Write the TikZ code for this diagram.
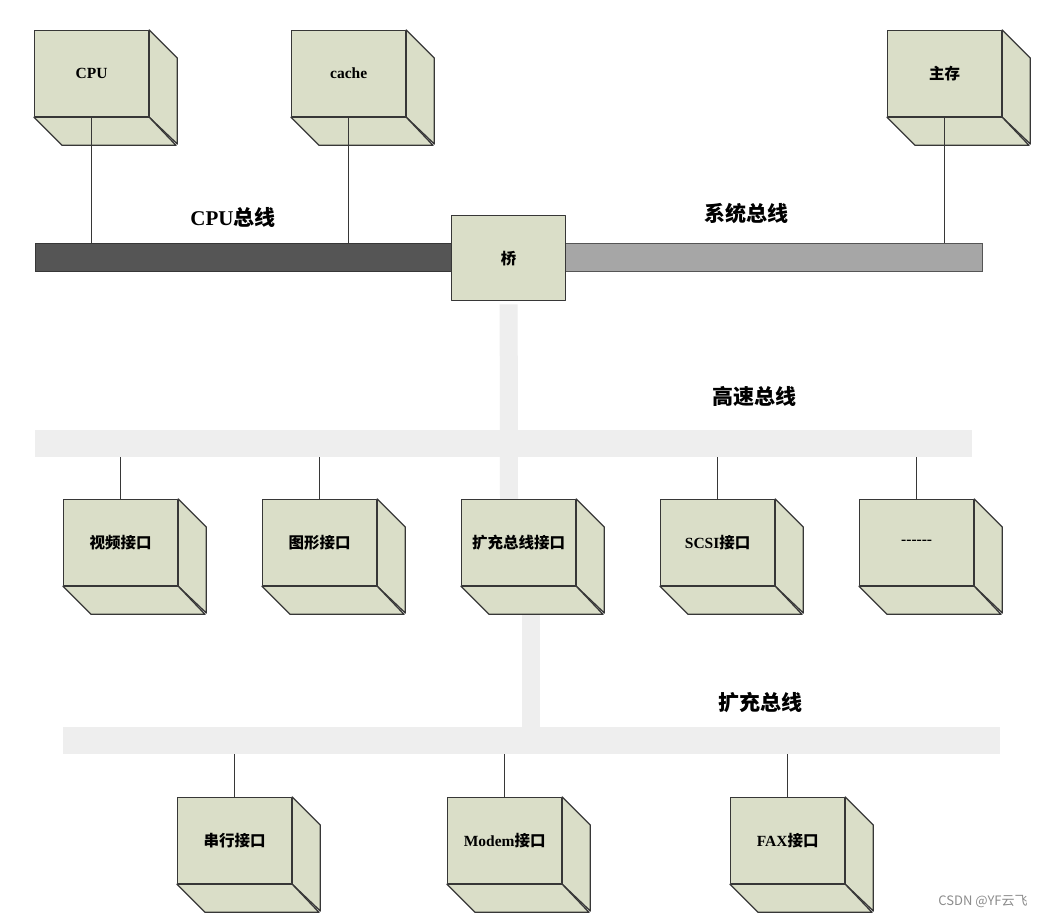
\documentclass[tikz,border=0pt]{standalone}
\usepackage{fontspec}
\setmainfont{Liberation Serif}
\newfontfamily\cjk{Noto Sans CJK SC}
\definecolor{boxfill}{RGB}{218,222,200}
\definecolor{edge}{RGB}{55,55,55}
\definecolor{darkbus}{RGB}{85,85,85}
\definecolor{greybus}{RGB}{166,166,166}
\definecolor{lightbar}{RGB}{238,238,238}
\definecolor{wm}{RGB}{140,140,140}
\tikzset{
  face/.style={draw=edge, fill=boxfill, line width=1.3pt, line join=round},
  front/.style={face, rectangle, minimum width=114pt, minimum height=86pt, inner sep=0pt, anchor=north west,
    font=\bfseries\fontsize{15.5}{15.5}\selectfont},
  link/.style={draw=edge, line width=1pt},
  bar/.style={rectangle, inner sep=0pt, anchor=north west, draw=none, fill=lightbar},
  vbar/.style={draw=lightbar, line width=18pt},
  buslabel/.style={font=\cjk\bfseries\fontsize{21}{21}\selectfont},
}
\newcommand\cubefaces[1]{%
  \filldraw[face] (#1.north east) -- ++(28,28) -- ++(0,86) -- (#1.south east) -- cycle;
  \filldraw[face] (#1.south west) -- ++(28,28) -- ++(114,0) -- (#1.south east) -- cycle;}
\begin{document}
\begin{tikzpicture}[x=1pt,y=-1pt]
\useasboundingbox[fill=white] (0,0) rectangle (1046,920);
% buses
\node[bar, minimum width=937pt, minimum height=27pt] (hsbus) at (35,430) {};
\node[bar, minimum width=937pt, minimum height=27pt] (xbus) at (63,727) {};
\node[rectangle, inner sep=0pt, anchor=north west, draw=edge, line width=1pt, fill=darkbus,
  minimum width=417pt, minimum height=28pt] (cpubus) at (35,243) {};
\node[rectangle, inner sep=0pt, anchor=north west, draw=darkbus, line width=1pt, fill=greybus,
  minimum width=417pt, minimum height=28pt] (sysbus) at (565,243) {};
% bridge
\node[face, rectangle, minimum width=114pt, minimum height=85pt, inner sep=0pt, anchor=north west,
  font=\cjk\bfseries\fontsize{15.5}{15.5}\selectfont] (bridge) at (451,215) {桥};
% light vertical bars
\coordinate (xiftop) at (509,499);
\coordinate (xifbot) at (531,612);
\draw[vbar] ([yshift=-3pt]bridge.south) -- (xiftop);
\draw[vbar] (xifbot) -- (xifbot |- xbus.north);
% top boxes
\node[front] (cpu) at (34,30) {CPU};
\node[front] (cache) at (291,30) {cache};
\node[front] (mem) at (887,30) {\cjk 主存};
\cubefaces{cpu}\cubefaces{cache}\cubefaces{mem}
\draw[link] (cpu.south) -- (cpu.south |- cpubus.north);
\draw[link] (cache.south) -- (cache.south |- cpubus.north);
\draw[link] (mem.south) -- (mem.south |- sysbus.north);
% middle boxes
\node[front] (video) at (63,499) {\cjk 视频接口};
\node[front] (gfx) at (262,499) {\cjk 图形接口};
\node[front] (xif) at (461,499) {\cjk 扩充总线接口};
\node[front] (scsi) at (660,499) {SCSI\cjk 接口};
\node[front] (more) at (859,499) {-{}-{}-{}-{}-{}-};
\cubefaces{video}\cubefaces{gfx}\cubefaces{xif}\cubefaces{scsi}\cubefaces{more}
\draw[link] (video.north) -- (video.north |- hsbus.south);
\draw[link] (gfx.north) -- (gfx.north |- hsbus.south);
\draw[link] (scsi.north) -- (scsi.north |- hsbus.south);
\draw[link] (more.north) -- (more.north |- hsbus.south);
% bottom boxes
\node[front] (serial) at (177,797) {\cjk 串行接口};
\node[front] (modem) at (447,797) {Modem\cjk 接口};
\node[front] (fax) at (730,797) {FAX\cjk 接口};
\cubefaces{serial}\cubefaces{modem}\cubefaces{fax}
\draw[link] (serial.north) -- (serial.north |- xbus.south);
\draw[link] (modem.north) -- (modem.north |- xbus.south);
\draw[link] (fax.north) -- (fax.north |- xbus.south);
% labels
\node[font=\bfseries\fontsize{21}{21}\selectfont] (lcpu) at (233,217) {CPU\cjk 总线};
\node[buslabel] (lsys) at (746,213) {系统总线};
\node[buslabel] (lhs) at (754,396) {高速总线};
\node[buslabel] (lx) at (760,703) {扩充总线};
\node[text=wm, font=\cjk\fontsize{13}{13}\selectfont] (wmark) at (983,902) {CSDN @YF云飞};
\end{tikzpicture}
\end{document}
